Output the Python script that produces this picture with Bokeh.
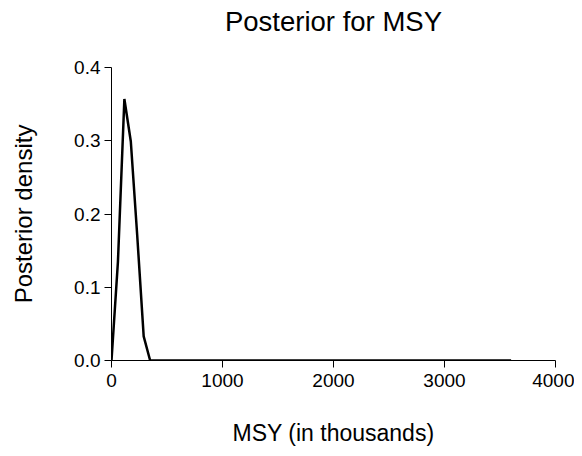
from bokeh.plotting import figure
from bokeh.models import Range1d, FixedTicker, NumeralTickFormatter, LinearAxis
from bokeh.embed import file_html
from bokeh.resources import INLINE

# posterior density of MSY
msy = [0, 58, 116, 174, 232, 290, 348, 3600]
density = [0.0, 0.135, 0.357, 0.299, 0.17, 0.033, 0.0, 0.0]

x_ticks = [0, 1000, 2000, 3000, 4000]
y_ticks = [0.0, 0.1, 0.2, 0.3, 0.4]

FONT = "Liberation Sans"

p = figure(width=574, height=448, output_backend="svg", toolbar_location=None,
           tools="", title=None, x_range=Range1d(0, 4000), y_range=Range1d(0, 0.4),
           min_border_left=111, min_border_right=19,
           min_border_top=67, min_border_bottom=87)

xax = p.below[0]
yax = p.left[0]

# title as the label of a bare axis on top, so it sits where the reference has it
top = LinearAxis(ticker=FixedTicker(ticks=[]), axis_label="Posterior for MSY")
top.axis_line_color = None
top.major_tick_line_color = None
top.minor_tick_line_color = None
top.major_tick_out = 0
top.major_label_standoff = 0
top.major_label_text_font_size = "0px"
top.axis_label_standoff = 31
top.axis_label_text_font = FONT
top.axis_label_text_font_size = "27.5px"
top.axis_label_text_font_style = "normal"
top.axis_label_text_color = "black"
p.add_layout(top, "above")

p.line(msy, density, line_color="black", line_width=2.5)

p.outline_line_color = None
p.xgrid.visible = False
p.ygrid.visible = False
p.background_fill_color = "white"
p.border_fill_color = "white"

xax.ticker = FixedTicker(ticks=x_ticks)
yax.ticker = FixedTicker(ticks=y_ticks)
yax.formatter = NumeralTickFormatter(format="0.0")

xax.axis_label = "MSY (in thousands)"
yax.axis_label = "Posterior density"

for ax in [xax, yax]:
    ax.axis_line_color = "black"
    ax.major_tick_line_color = "black"
    ax.major_tick_out = 7
    ax.major_tick_in = 0
    ax.minor_tick_line_color = None
    ax.major_label_text_font = FONT
    ax.major_label_text_font_size = "19px"
    ax.major_label_text_color = "black"
    ax.axis_label_text_font = FONT
    ax.axis_label_text_font_style = "normal"
    ax.axis_label_text_color = "black"

xax.axis_label_text_font_size = "23px"
yax.axis_label_text_font_size = "24px"
xax.major_label_standoff = 6
yax.major_label_standoff = 4
xax.axis_label_standoff = 30
yax.axis_label_standoff = 34

open("out.html", "w").write(file_html(p, INLINE))
